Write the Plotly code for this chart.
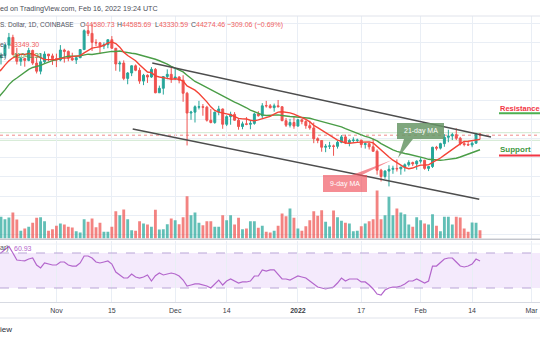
import plotly.graph_objects as go
import pandas as pd

# ---------------- data (prices in thousands of USD) ----------------
prior_closes = [42.2, 41.0, 41.5, 43.8, 48.1, 47.7, 48.2, 49.2, 51.5, 55.3, 53.8,
                53.9, 54.9, 54.7, 57.5, 56.0, 57.4, 57.4, 61.7, 60.9]  # Sep 27 - Oct 16

start_date = "2021-10-17"
opens = [60.9, 61.5, 62.0, 64.3, 66.0, 62.2, 60.7, 61.3, 60.9, 63.1, 60.3, 58.5, 60.6, 62.3, 61.9,
         61.3, 61.0, 63.2, 62.9, 61.4, 61.0, 61.5, 63.3, 67.5, 66.9, 64.9, 64.8, 64.1, 64.4, 65.5,
         63.6, 60.1, 60.3, 56.9, 58.1, 59.7, 58.7, 56.3, 57.6, 57.2, 58.9, 53.7, 54.7, 57.3, 57.8,
         56.9, 57.2, 56.5, 53.6, 49.2, 49.4, 50.5, 50.6, 50.5, 47.6, 47.1, 49.4, 50.1, 46.7, 48.4,
         48.9, 47.6, 46.2, 46.8, 46.7, 46.9, 49.0, 48.6, 50.85, 50.8, 50.4, 50.8, 50.6, 47.5, 46.5,
         47.1, 46.3, 47.7, 47.3, 46.4, 45.9, 43.5, 43.1, 41.6, 41.8, 41.9, 41.8, 42.7, 43.9, 42.6,
         43.1, 43.1, 43.2, 42.2, 42.4, 41.7, 40.7, 36.5, 35.1, 36.3, 36.7, 36.9, 36.8, 37.2, 37.7,
         38.2, 37.9, 38.5, 38.7, 36.9, 37.3, 41.6, 41.4, 42.4, 43.8, 44.1, 44.4, 43.6, 42.4, 42.2,
         42.1, 42.5, 44.58073]
highs = [61.7, 62.6, 64.5, 67.0, 66.6, 63.7, 61.7, 61.5, 63.7, 63.3, 61.5, 62.5, 62.9, 62.3, 62.4,
         62.4, 64.3, 63.5, 63.1, 62.6, 61.6, 63.3, 67.8, 68.5, 69.0, 65.6, 65.0, 64.9, 65.5, 66.3,
         63.6, 60.8, 60.9, 58.3, 59.8, 60.0, 59.3, 57.9, 57.8, 59.4, 59.2, 55.3, 57.4, 58.9, 59.2,
         59.1, 57.4, 57.6, 53.9, 49.7, 50.9, 51.9, 51.2, 50.8, 50.1, 49.5, 50.8, 50.2, 48.7, 49.5,
         49.4, 47.9, 47.3, 48.3, 47.5, 49.3, 49.6, 51.4, 51.9, 51.2, 51.3, 52.1, 50.7, 48.1, 47.9,
         48.5, 47.9, 47.9, 47.6, 47.5, 47.1, 43.8, 43.1, 42.3, 42.8, 42.2, 43.0, 44.3, 44.4, 43.4,
         43.8, 43.5, 43.2, 42.7, 42.6, 43.5, 41.1, 36.8, 36.5, 37.6, 37.5, 38.9, 37.2, 38.0, 38.7,
         38.4, 38.7, 39.3, 38.8, 37.4, 41.7, 41.9, 42.6, 44.5, 45.5, 44.8, 45.8, 43.9, 43.0, 42.8,
         42.9, 44.8, 44.58569]
lows = [58.9, 60.0, 61.4, 63.5, 62.0, 60.0, 59.7, 59.5, 60.7, 59.9, 58.0, 57.8, 60.2, 60.7, 59.9,
        59.4, 60.7, 60.4, 60.7, 60.8, 60.1, 61.4, 63.3, 66.3, 63.0, 64.1, 62.3, 63.4, 63.6, 63.5,
        58.6, 58.4, 56.5, 55.6, 57.4, 58.5, 55.7, 55.4, 55.9, 57.0, 53.6, 53.7, 53.3, 56.7, 55.9,
        56.5, 55.8, 51.7, 42.0, 47.7, 47.1, 50.0, 48.6, 47.3, 46.9, 46.8, 48.7, 45.7, 46.3, 46.6,
        47.5, 45.5, 45.6, 46.5, 45.6, 46.6, 48.4, 48.1, 50.4, 50.2, 49.5, 50.5, 47.4, 46.1, 46.0,
        45.7, 46.2, 46.7, 45.7, 45.5, 42.5, 42.5, 40.6, 40.5, 41.2, 39.7, 41.3, 42.5, 42.3, 41.8,
        42.6, 42.7, 41.5, 41.3, 41.1, 40.6, 35.5, 34.0, 34.6, 32.9, 35.7, 36.2, 35.5, 36.2, 37.3,
        37.4, 36.6, 38.0, 36.6, 36.3, 37.0, 40.9, 41.1, 41.7, 42.7, 43.2, 43.2, 42.0, 41.8, 41.9,
        41.6, 42.4, 43.33059]
closes = [61.5, 62.0, 64.3, 66.0, 62.2, 60.7, 61.3, 60.9, 63.1, 60.3, 58.5, 60.6, 62.3, 61.9, 61.3,
          61.0, 63.2, 62.9, 61.4, 61.0, 61.5, 63.3, 67.5, 66.9, 64.9, 64.8, 64.1, 64.4, 65.5, 63.6,
          60.1, 60.3, 56.9, 58.1, 59.7, 58.7, 56.3, 57.6, 57.2, 58.9, 53.7, 54.7, 57.3, 57.8, 56.9,
          57.2, 56.5, 53.6, 49.2, 49.4, 50.6, 50.6, 50.5, 47.6, 47.1, 49.4, 50.1, 46.7, 48.4, 48.9,
          47.6, 46.2, 46.8, 46.7, 46.9, 49.0, 48.6, 50.8, 50.8, 50.4, 50.8, 50.6, 47.5, 46.5, 47.1,
          46.3, 47.7, 47.3, 46.4, 45.9, 43.5, 43.1, 41.6, 41.8, 41.9, 41.8, 42.7, 43.9, 42.6, 43.1,
          43.2, 43.2, 42.2, 42.4, 41.7, 40.7, 36.5, 35.1, 36.3, 36.7, 36.9, 36.8, 37.2, 37.7, 38.2,
          37.9, 38.5, 38.7, 36.9, 37.3, 41.6, 41.4, 42.4, 43.8, 44.1, 44.4, 43.6, 42.4, 42.2, 42.1,
          42.5, 44.6, 44.27446]

# volume (BTC)
volume = [12000, 19500, 17400, 18900, 23400, 17100, 6900, 9000, 10500, 14100, 18600, 19200, 15600, 6900, 8400,
          11400, 13500, 12600, 10500, 9900, 6600, 5400, 17400, 15000, 18000, 10200, 14100, 6000, 6000, 10500,
          24600, 21000, 26100, 17400, 7500, 6900, 15600, 13500, 12600, 10500, 25800, 8100, 8400, 12900, 18000,
          16500, 12900, 19200, 38100, 21000, 23400, 14100, 12000, 15600, 15600, 10500, 10500, 21000, 16500, 21000,
          12600, 18600, 8400, 9000, 15600, 15600, 9600, 11400, 6000, 5400, 6900, 11400, 22500, 20100, 27000,
          18600, 9000, 6900, 11100, 16500, 24600, 20400, 25500, 15000, 10800, 25200, 19200, 15900, 14100, 13500,
          6600, 6900, 11100, 13500, 15600, 17400, 43200, 17400, 21000, 37500, 21000, 27000, 23400, 21900, 12600,
          10500, 19200, 16500, 13500, 12600, 21900, 11400, 6600, 19500, 19500, 12600, 19500, 18900, 9000, 6000,
          14400, 14100, 7500]

# RSI (14)
rsi = [69.0, 70.0, 74.0, 77.5, 70.0, 62.0, 61.4, 61.0, 63.1, 64.3, 56.3, 52.9, 58.6, 57.4, 56.3,
       56.3, 59.7, 59.7, 56.3, 55.1, 55.1, 58.6, 66.6, 66.6, 64.3, 59.7, 58.6, 59.7, 60.9, 57.4,
       48.3, 44.9, 41.4, 41.4, 46.0, 42.6, 41.4, 42.6, 44.9, 38.0, 44.0, 47.1, 44.9, 46.0, 47.1,
       46.0, 43.7, 39.1, 32.3, 33.4, 34.6, 34.6, 33.4, 32.3, 30.0, 34.6, 39.1, 33.4, 38.0, 40.3,
       38.0, 35.7, 36.9, 36.9, 38.0, 43.7, 43.7, 50.6, 49.4, 50.6, 50.6, 44.9, 40.3, 40.3, 39.1,
       41.4, 43.7, 42.6, 41.4, 38.0, 34.6, 31.1, 30.0, 28.9, 30.0, 31.1, 35.7, 41.4, 38.0, 40.3,
       40.3, 40.3, 36.9, 36.9, 33.4, 28.9, 23.1, 22.0, 27.7, 30.0, 31.1, 31.1, 32.3, 34.6, 38.0,
       38.0, 40.3, 38.0, 35.7, 38.0, 55.1, 55.1, 59.7, 63.1, 64.3, 64.3, 59.7, 55.1, 54.0, 55.1,
       57.4, 63.1, 60.93]

# drawn trend channel (date, price k$)
upper_channel_x = ["2021-11-25 05:00", "2022-02-18 18:30"]
upper_channel_y = [60.32, 43.87]
lower_channel_x = ["2021-11-20 06:30", "2022-02-15 19:30"]
lower_channel_y = [45.65, 30.03]
zone_levels = [44.83, 43.14]

tick_dates = ["2021-10-18", "2021-11-01", "2021-11-15", "2021-12-01", "2021-12-14",
              "2022-01-01", "2022-01-17", "2022-02-01", "2022-02-14", "2022-03-01"]
tick_labels = ["18", "Nov", "15", "Dec", "14", "<b>2022</b>", "17", "Feb", "14", "Mar"]

# ---------------- derived ----------------
K = 1000.0
dates = pd.date_range(start_date, periods=len(closes), freq="D")
O = [v * K for v in opens]
H = [v * K for v in highs]
L = [v * K for v in lows]
C = [v * K for v in closes]

all_closes = pd.Series([v * K for v in prior_closes + closes])
all_dates = pd.date_range("2021-09-27", periods=len(all_closes), freq="D")
ma9 = all_closes.rolling(9).mean()
ma21 = all_closes.rolling(21).mean()

TEAL = "#26a69a"
RED = "#ef5350"
GRID = "#e9eef5"
FONT = "Liberation Sans, Arial, sans-serif"

vol_colors = ["rgba(38,166,154,0.72)" if c >= o else "rgba(239,83,80,0.72)" for o, c in zip(O, C)]

W, Hh = 540.0, 340.0


def px(x):
    return x / W


def py(y):
    return 1 - y / Hh


fig = go.Figure()

fig.add_trace(go.Bar(x=dates, y=volume, marker=dict(color=vol_colors, line=dict(width=0)),
                     width=0.72 * 86400000, xaxis="x", yaxis="y", hoverinfo="skip"))

fig.add_trace(go.Candlestick(
    x=dates, open=O, high=H, low=L, close=C, xaxis="x", yaxis="y2",
    increasing=dict(line=dict(color=TEAL, width=1), fillcolor=TEAL),
    decreasing=dict(line=dict(color=RED, width=1), fillcolor=RED),
    whiskerwidth=0))

fig.add_trace(go.Scatter(x=all_dates, y=ma21, mode="lines", xaxis="x", yaxis="y2",
                         line=dict(color="#4a9d47", width=1.4)))
fig.add_trace(go.Scatter(x=all_dates, y=ma9, mode="lines", xaxis="x", yaxis="y2",
                         line=dict(color="#f44336", width=1.4)))

for cx, cy in [(upper_channel_x, upper_channel_y), (lower_channel_x, lower_channel_y)]:
    fig.add_trace(go.Scatter(x=pd.to_datetime(cx), y=[v * K for v in cy], mode="lines",
                             xaxis="x", yaxis="y2", line=dict(color="#4d4d4d", width=1.5)))

fig.add_trace(go.Scatter(x=dates, y=rsi, mode="lines", xaxis="x2", yaxis="y3",
                         line=dict(color="#b366cc", width=1.2)))

# ---------------- layout ----------------
xr = ["2021-10-17 17:56", "2022-03-03 03:36"]
price_dom = [py(238.5), py(16)]
rsi_dom = [py(302), py(241)]
price_top = 44274.46 + (135.2 - 16) / 4.5 * K
price_bot = 44274.46 - (238.5 - 135.2) / 4.5 * K
rsi_top = 70 + (253 - 241) / 0.875
rsi_bot = 70 - (302 - 253) / 0.875

shapes = []


def hline_paper(y, color, width=1, x0=0, x1=540, dash="solid"):
    shapes.append(dict(type="line", xref="paper", yref="paper", x0=px(x0), x1=px(x1),
                       y0=py(y), y1=py(y), line=dict(color=color, width=width, dash=dash)))


hline_paper(16, "#e0e3eb")
hline_paper(239.2, "#a9acb5")
hline_paper(244, "#eef1f6")
hline_paper(302.5, "#d7dae2")
hline_paper(318, "#e0e3eb")

# RSI band
shapes.append(dict(type="rect", xref="paper", yref="y3", x0=0, x1=1, y0=30, y1=70,
                   fillcolor="#f4eafc", line=dict(width=0), layer="below"))
for lv in (70, 30):
    shapes.append(dict(type="line", xref="paper", yref="y3", x0=0, x1=1, y0=lv, y1=lv,
                       line=dict(color="#b9a5d6", width=1, dash="dash"), layer="above"))

# zone lines and last price line
for lv in zone_levels:
    shapes.append(dict(type="line", xref="paper", yref="y2", x0=0, x1=1, y0=lv * K, y1=lv * K,
                       line=dict(color="#cfe8cf", width=1), layer="below"))
shapes.append(dict(type="line", xref="paper", yref="y2", x0=0, x1=1, y0=C[-1], y1=C[-1],
                   line=dict(color="#f08a8a", width=1, dash="dot"), layer="below"))


def path(points):
    s = "M " + " L ".join(f"{px(x):.5f},{py(y):.5f}" for x, y in points) + " Z"
    return s


# callouts
shapes.append(dict(type="path", xref="paper", yref="paper",
                   path=path([(397, 123), (444, 123), (444, 139), (413, 139), (398, 158), (404, 139), (397, 139)]),
                   fillcolor="rgba(104,150,102,0.85)", line=dict(width=0), layer="above"))
shapes.append(dict(type="path", xref="paper", yref="paper",
                   path=path([(323, 175), (352, 175), (392, 160), (362, 175), (367, 175), (367, 192), (323, 192)]),
                   fillcolor="rgba(240,80,90,0.65)", line=dict(width=0), layer="above"))

# Resistance / support underlines
hline_paper(113.2, "#4caf50", width=2, x0=499)
hline_paper(155.5, "#f23645", width=2, x0=499)

annotations = []


def ann(text, x, y, color="#50535e", size=7, xanchor="left"):
    annotations.append(dict(text=text, x=px(x), y=py(y), xref="paper", yref="paper",
                            xanchor=xanchor, yanchor="middle", showarrow=False,
                            font=dict(family=FONT, size=size, color=color), borderpad=0))


VAL = "#f06262"
ann("ed on TradingView.com, Feb 16, 2022 19:24 UTC", -1, 8, color="#4a4d57", size=7.2)
ann("S. Dollar, 1D, COINBASE", -1, 25, size=6.5)
ann(f"O<span style='color:{VAL}'>44580.73</span>", 79, 25)
ann(f"H<span style='color:{VAL}'>44585.69</span>", 116, 25)
ann(f"L<span style='color:{VAL}'>43330.59</span>", 154, 25)
ann(f"C<span style='color:{VAL}'>44274.46</span>", 190, 25)
ann("−309.06 (−0.69%)", 226, 25, color=VAL)
ann("e)", -1, 45)
ann("43349.30", 9, 45, color=VAL)
ann("e)", -1, 56)
ann("41041.30", 12, 56, color="#4a9d47")
ann("ar)", -1, 248)
ann("60.93", 13, 248, color="#b366cc")
ann("iew", -1, 329, color="#2a2e39", size=8)
ann("21-day MA", 420.5, 131, color="white", xanchor="center")
ann("9-day MA", 345, 183.5, color="white", xanchor="center")
ann("<b>Resistance</b>", 499, 108, color="#f23645", size=7.5)
ann("<b>Support</b>", 499, 149.5, color="#3f973f", size=8)

fig.update_layout(
    width=540, height=340, margin=dict(l=0, r=0, t=0, b=0),
    paper_bgcolor="white", plot_bgcolor="white", showlegend=False,
    font=dict(family=FONT, size=7, color="#50535e"),
    xaxis=dict(domain=[0, 1], anchor="y", type="date", range=xr, tickvals=tick_dates,
               showticklabels=False, showgrid=True, gridcolor=GRID, gridwidth=1, zeroline=False,
               showline=False, ticks="", rangeslider=dict(visible=False), fixedrange=True),
    xaxis2=dict(domain=[0, 1], anchor="y3", type="date", range=xr, tickvals=tick_dates,
                ticktext=tick_labels, showgrid=True, gridcolor=GRID, gridwidth=1, zeroline=False,
                showline=False, ticks="outside", ticklen=2, tickcolor="rgba(0,0,0,0)",
                tickfont=dict(family=FONT, size=7, color="#3a3d47"), fixedrange=True),
    yaxis=dict(domain=price_dom, anchor="x", range=[0, 222.5 * 900], visible=False, fixedrange=True),
    yaxis2=dict(overlaying="y", anchor="x", range=[price_bot, price_top], showgrid=True, gridcolor=GRID,
                tickmode="linear", tick0=69141, dtick=4267, showticklabels=False, zeroline=False,
                showline=False, ticks="", fixedrange=True),
    yaxis3=dict(domain=rsi_dom, anchor="x2", range=[rsi_bot, rsi_top], showgrid=False,
                showticklabels=False, zeroline=False, showline=False, ticks="", fixedrange=True),
    shapes=shapes, annotations=annotations,
)

fig.write_html("out.html")
